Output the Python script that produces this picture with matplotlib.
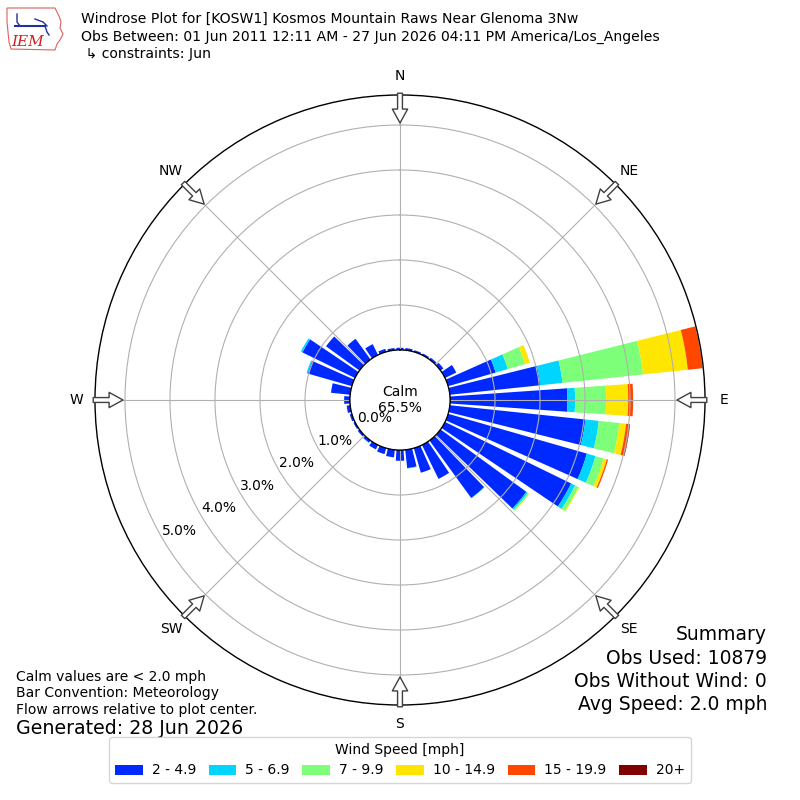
import numpy as np
import matplotlib
matplotlib.use("Agg")
import matplotlib.pyplot as plt
from matplotlib.patches import Circle, Polygon

# wind direction bins (deg, meteorological) and percent of obs per speed bin
directions = np.arange(0, 360, 10)
spd_2_5 = [0.05, 0.05, 0.04, 0.04, 0.05, 0.08, 0.28, 1.10, 2.02, 2.61, 3.03, 3.21,
           3.12, 2.36, 1.58, 0.84, 0.57, 0.41, 0.24, 0.17, 0.14, 0.11, 0.06, 0.05,
           0.04, 0.05, 0.08, 0.13, 0.43, 1.02, 1.30, 0.92, 0.57, 0.27, 0.07, 0.05]
spd_5_7 = [0, 0, 0, 0, 0, 0, 0, 0.28, 0.50, 0.17, 0.30, 0.20,
           0.10, 0.04, 0.01, 0, 0, 0.01, 0, 0, 0, 0, 0.01, 0,
           0, 0, 0, 0, 0, 0.03, 0.04, 0, 0, 0, 0, 0]
spd_7_10 = [0, 0, 0, 0, 0, 0, 0, 0.40, 1.80, 0.69, 0.46, 0.19,
            0.08, 0.03, 0, 0, 0, 0, 0, 0, 0, 0, 0, 0,
            0, 0, 0, 0, 0, 0, 0, 0, 0, 0, 0, 0]
spd_10_15 = [0, 0, 0, 0, 0, 0, 0, 0.11, 1.00, 0.49, 0.15, 0.07,
             0.02, 0.01, 0, 0, 0, 0, 0, 0, 0, 0, 0, 0,
             0, 0, 0, 0, 0, 0, 0, 0, 0, 0, 0, 0]
spd_15_20 = [0, 0, 0, 0, 0, 0, 0, 0, 0.33, 0.11, 0.08, 0.03,
             0, 0, 0, 0, 0, 0, 0, 0, 0, 0, 0, 0,
             0, 0, 0, 0, 0, 0, 0, 0, 0, 0, 0, 0]
spd_20p = [0, 0, 0, 0, 0, 0, 0, 0, 0, 0, 0.01, 0,
           0, 0, 0, 0, 0, 0, 0, 0, 0, 0, 0, 0,
           0, 0, 0, 0, 0, 0, 0, 0, 0, 0, 0, 0]
speed_labels = ["2 - 4.9", "5 - 6.9", "7 - 9.9", "10 - 14.9", "15 - 19.9", "20+"]
calm_pct = 65.5
rings = [0, 1, 2, 3, 4, 5]
compass = ["N", "NE", "E", "SE", "S", "SW", "W", "NW"]

series = [spd_2_5, spd_5_7, spd_7_10, spd_10_15, spd_15_20, spd_20p]
colors = plt.cm.jet(np.linspace(0, 1, 7))[1:]

fig = plt.figure(figsize=(8, 8), dpi=100)
ax = fig.add_axes([95 / 800, 95 / 800, 610 / 800, 610 / 800], projection="polar")
ax.set_theta_zero_location("N")
ax.set_theta_direction(-1)

rmax = 255 / 45.0
calm_r = 50 / 45.0
ax.set_ylim(0, rmax)
ax.set_rorigin(-calm_r)

theta = np.deg2rad(directions)
width = np.deg2rad(8)
bottom = np.zeros(len(directions))
for vals, col, lab in zip(series, colors, speed_labels):
    vals = np.array(vals)
    ax.bar(theta, vals, width=width, bottom=bottom, color=col, edgecolor="none",
           label=lab, zorder=1)
    bottom += vals

ax.set_rticks(rings[1:])
ax.set_yticklabels([])
ax.set_xticks(np.deg2rad(np.arange(0, 360, 45)))
ax.set_xticklabels(compass, fontsize=10)
ax.tick_params(axis="x", length=0, pad=6.5)
ax.grid(True, color="#b0b0b0", lw=0.8)
ax.spines["polar"].set_linewidth(1.0)

# calm circle in the middle
frac = 0.5 * calm_r / (rmax + calm_r)
ax.add_patch(Circle((0.5, 0.5), frac, transform=ax.transAxes, fc="white",
                    ec="black", lw=1.0, zorder=2))
ax.text(0.5, 0.5, "Calm\n%.1f%%" % calm_pct, transform=ax.transAxes,
        ha="center", va="center", fontsize=10, zorder=4)

for r in rings:
    ax.text(np.deg2rad(240), r, "%.1f%%" % r, ha="left", va="bottom",
            fontsize=10, zorder=4)

# flow arrows at compass points
for ang in np.arange(0, 360, 45):
    th = np.deg2rad(ang)
    ax.annotate("", xy=(th, (277 - 50) / 45.0), xytext=(th, rmax + 0.04),
                arrowprops=dict(arrowstyle="simple,head_length=1,head_width=1.1,tail_width=0.35",
                                fc="white", ec="#404040", lw=1, shrinkA=0, shrinkB=0),
                annotation_clip=False, zorder=5)

# header
fig.text(81 / 800, 1 - 19 / 800,
         "Windrose Plot for [KOSW1] Kosmos Mountain Raws Near Glenoma 3Nw",
         va="center", fontsize=10.1)
fig.text(81 / 800, 1 - 37 / 800,
         "Obs Between: 01 Jun 2011 12:11 AM - 27 Jun 2026 04:11 PM America/Los_Angeles",
         va="center", fontsize=10.1)
fig.text(81 / 800, 1 - 54 / 800, " \u21b3 constraints: Jun", va="center", fontsize=10.1)

# logo
lax = fig.add_axes([5 / 800, 1 - 52 / 800, 60 / 800, 47 / 800])
lax.set_xlim(0, 60)
lax.set_ylim(0, 47)
lax.axis("off")
iowa = [(2, 44), (50, 44), (52, 40), (54, 36), (56, 30), (55, 24), (58, 18),
        (55, 12), (52, 8), (50, 2), (6, 3), (4, 10), (3, 20), (2, 30)]
lax.add_patch(Polygon(iowa, closed=True, fc="white", ec="#e06060", lw=0.8))
lax.plot([10, 40], [26, 26], color="#2030a0", lw=1.5)
lax.plot([12, 12, 15], [38, 30, 26], color="#2030a0", lw=1)
lax.plot([30, 38, 42], [33, 30, 26], color="#2030a0", lw=1)
lax.plot([40, 42, 44], [26, 20, 17], color="#2030a0", lw=1)
lax.text(23, 10, "IEM", color="#d02020", fontsize=11, family="DejaVu Serif",
         style="italic", ha="center", va="center")

# notes
fig.text(16 / 800, 1 - 677 / 800, "Calm values are < 2.0 mph", va="center", fontsize=10)
fig.text(16 / 800, 1 - 693 / 800, "Bar Convention: Meteorology", va="center", fontsize=10)
fig.text(16 / 800, 1 - 710 / 800, "Flow arrows relative to plot center.", va="center", fontsize=10)
fig.text(16 / 800, 1 - 729 / 800, "Generated: 28 Jun 2026", va="center", fontsize=13.7)

summary = ["Summary", "Obs Used: 10879", "Obs Without Wind: 0", "Avg Speed: 2.0 mph"]
for i, line in enumerate(summary):
    fig.text(767 / 800, 1 - (635 + 23.3 * i) / 800, line, ha="right", va="center",
             fontsize=13.5)

handles, labels = ax.get_legend_handles_labels()
fig.legend(handles, labels, loc="lower center", bbox_to_anchor=(0.5, 10 / 800),
           ncol=6, title="Wind Speed [mph]", fontsize=10, title_fontsize=10,
           columnspacing=0.9, handletextpad=0.65)

fig.savefig("out.png", dpi=100)
